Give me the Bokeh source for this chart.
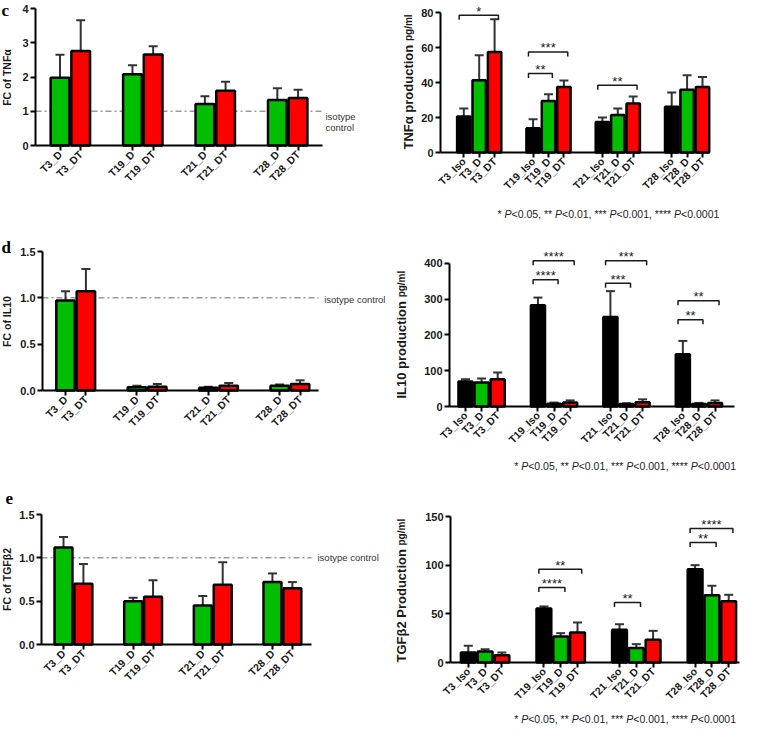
import math
from bokeh.plotting import figure
from bokeh.models import Range1d, FixedTicker, Label, NumeralTickFormatter
from bokeh.layouts import row, column
from bokeh.core.properties import value
from bokeh.embed import file_html
from bokeh.resources import INLINE

FONT = "Liberation Sans"
SERIF = "Liberation Serif"
GREEN, RED, BLACK = "#00BE00", "#FF0000", "#000000"
INK = "#1a1a1a"
ERR = "#333333"
ISO = "#9a9a9a"

# ---------------- data ----------------
groups = ["T3", "T19", "T21", "T28"]
fc_conditions = ["D", "DT"]
pg_conditions = ["Iso", "D", "DT"]
fc_labels = [f"{g}_{c}" for g in groups for c in fc_conditions]
pg_labels = [f"{g}_{c}" for g in groups for c in pg_conditions]
fc_colors = [GREEN, RED]
pg_colors = [BLACK, GREEN, RED]

fc_tnf = [1.98, 2.76, 2.08, 2.66, 1.21, 1.60, 1.33, 1.39]
fc_tnf_err = [0.67, 0.90, 0.26, 0.24, 0.23, 0.26, 0.34, 0.24]
pg_tnf = [20.6, 41.3, 57.5, 13.9, 29.5, 37.5, 17.5, 21.5, 28.0, 26.1, 35.8, 37.5]
pg_tnf_err = [4.5, 14.3, 18.7, 5.1, 3.8, 3.6, 2.5, 3.6, 4.0, 8.2, 8.4, 5.7]

fc_il10 = [0.97, 1.07, 0.035, 0.04, 0.03, 0.05, 0.05, 0.07]
fc_il10_err = [0.10, 0.24, 0.015, 0.03, 0.01, 0.03, 0.015, 0.04]
pg_il10 = [69.8, 67.0, 76.3, 282.8, 8.0, 11.0, 250.0, 7.0, 12.0, 146.0, 7.0, 10.0]
pg_il10_err = [6.5, 11.0, 18.7, 21.2, 3.0, 6.0, 72.0, 2.0, 8.0, 37.0, 3.0, 7.0]

fc_tgf = [1.12, 0.70, 0.50, 0.55, 0.45, 0.69, 0.72, 0.65]
fc_tgf_err = [0.12, 0.23, 0.04, 0.19, 0.11, 0.26, 0.10, 0.07]
pg_tgf = [10.3, 11.3, 7.5, 55.6, 26.8, 30.9, 33.7, 14.8, 23.4, 96.1, 69.3, 63.1]
pg_tgf_err = [6.9, 2.4, 2.8, 2.1, 3.4, 10.3, 5.7, 4.1, 9.2, 4.1, 9.7, 6.6]

# significance: (from bar, to bar, bracket height in data units, label)
sig_tnf = [(0, 2, 78.5, "*"), (3, 5, 57.5, "***"), (3, 4, 45.1, "**"), (6, 8, 38.5, "**")]
sig_il10 = [(3, 5, 406.6, "****"), (3, 4, 353.6, "****"), (6, 8, 406.6, "***"),
            (6, 7, 344.1, "***"), (9, 11, 295.0, "**"), (9, 10, 242.0, "**")]
sig_tgf = [(3, 5, 96.1, "**"), (3, 4, 77.2, "****"), (6, 7, 61.8, "**"),
           (9, 11, 138.0, "****"), (9, 10, 123.6, "**")]

ticks_fc_tnf = [0, 1, 2, 3, 4]
ticks_pg_tnf = [0, 20, 40, 60, 80]
ticks_fc_il10 = [0, 0.5, 1.0, 1.5]
ticks_pg_il10 = [0, 100, 200, 300, 400]
ticks_fc_tgf = [0, 0.5, 1.0, 1.5]
ticks_pg_tgf = [0, 50, 100, 150]
isotype_level = 1.0

p_legend = [("* ", "normal"), ("P", "italic"), ("<0.05, ** ", "normal"), ("P", "italic"),
            ("<0.01, *** ", "normal"), ("P", "italic"), ("<0.001, **** ", "normal"),
            ("P", "italic"), ("<0.0001", "normal")]

# ---------------- helpers ----------------
W_REG = {' ': .278, '*': .389, 'P': .667, '<': .584, '.': .278, ',': .278}
W_BOLD = {'T': .611, 'N': .722, 'F': .611, 'α': .62, 'β': .611, ' ': .278, 'p': .611,
          'r': .389, 'o': .611, 'd': .611, 'u': .611, 'c': .556, 't': .333, 'i': .278,
          'n': .611, 'I': .278, 'L': .611, 'G': .778, 'P': .667}


def twidth(s, size, table):
    return sum(table.get(ch, .556) for ch in s) * size


def page_label(p, g, px, py, text, size, style="normal", font=FONT, align="left",
               baseline="middle", angle=0.0, color=INK):
    # screen units are measured from the frame's bottom-left; the frame fills the figure
    p.add_layout(Label(x=px - g["fx"], y=g["fy"] + g["h"] - py, x_units="screen", y_units="screen",
                       text=text, text_font=font, text_font_size=f"{size}px",
                       text_font_style=style, text_align=align, text_baseline=baseline,
                       angle=angle, text_color=color))


def make_panel(g, labels, vals, errs, colors, per_group, step, yticks, fmt, ytick_size):
    n_in = per_group
    xs = [step * gi + 2 * m for gi in range(len(groups)) for m in range(n_in)]
    u, k = g["u"], g["k"]
    # frame covers the whole figure; axes are pinned inside it
    x0 = (g["fx"] - g["xfirst"]) / u
    x1 = (g["fx"] + g["w"] - g["xfirst"]) / u
    y0 = -(g["fy"] + g["h"] - g["B"]) / k
    y1 = (g["B"] - g["fy"]) / k
    xl = (g["L"] - g["xfirst"]) / u
    xr = (g["R"] - g["xfirst"]) / u
    p = figure(width=g["w"], height=g["h"], x_range=Range1d(x0, x1), y_range=Range1d(y0, y1),
               output_backend="svg", toolbar_location=None,
               min_border_left=0, min_border_right=0, min_border_top=0, min_border_bottom=0)
    p.outline_line_color = None
    p.xgrid.visible = False
    p.ygrid.visible = False
    p.background_fill_color = "white"
    p.border_fill_color = "white"

    bar_colors = [colors[i % n_in] for i in range(len(xs))]
    tops = [v + e for v, e in zip(vals, errs)]
    cap = 4.5 / u
    if g.get("iso"):
        p.line(x=[xl, xr], y=[isotype_level, isotype_level], line_color=ISO, line_width=1.5,
               line_dash="6 3 2 3")
    p.segment(x0=xs, y0=vals, x1=xs, y1=tops, line_color=ERR, line_width=2)
    p.segment(x0=[x - cap for x in xs], y0=tops, x1=[x + cap for x in xs], y1=tops,
              line_color=ERR, line_width=2)
    p.vbar(x=xs, top=vals, bottom=0, width=2 - 2.0 / u, fill_color=bar_colors,
           line_color=BLACK, line_width=2.5)

    for ax in (p.xaxis[0], p.yaxis[0]):
        ax.axis_line_width = 2
        ax.axis_line_color = BLACK
        ax.major_tick_line_width = 2
        ax.major_tick_line_color = BLACK
        ax.major_tick_out = 5
        ax.major_tick_in = 0
        ax.minor_tick_line_color = None
        ax.major_label_text_font = FONT
        ax.major_label_text_font_style = "bold"
        ax.major_label_text_color = INK
        ax.major_label_standoff = 2
    p.xaxis.major_label_text_font_size = "10.5px"
    p.yaxis.major_label_text_font_size = ytick_size
    p.xaxis.ticker = FixedTicker(ticks=xs)
    p.xaxis.major_label_overrides = {x: lab for x, lab in zip(xs, labels)}
    p.xaxis.major_label_orientation = math.pi / 4
    p.xaxis.fixed_location = 0
    p.xaxis.bounds = (xl, xr)
    p.yaxis.ticker = FixedTicker(ticks=yticks)
    p.yaxis.fixed_location = xl
    p.yaxis.bounds = (0, yticks[-1])
    if fmt:
        p.yaxis.formatter = NumeralTickFormatter(format=fmt)
    return p, xs


def add_brackets(p, g, xs, sigs):
    drop = 4.5 / g["k"]
    for a, b, lev, lab in sigs:
        left = xs[a] - 0.6
        right = xs[b] + 0.5
        p.multi_line(xs=[[left, left, right, right]], ys=[[lev - drop, lev, lev, lev - drop]],
                     line_color=INK, line_width=1.5)
        p.text(x=[(left + right) / 2], y=[lev], text=[lab], text_align="center",
               text_baseline="alphabetic", text_font=value(FONT), text_font_size="13px",
               text_color=INK, y_offset=-4)


def add_plegend(p, g, px, py, size=10.5):
    x = px
    for txt, style in p_legend:
        page_label(p, g, x, py, txt, size, style=style, color="#222222")
        x += twidth(txt, size, W_REG)


def add_right_ylabel(p, g, xb, ystart, main, sub):
    page_label(p, g, xb, ystart, main, 13, style="bold", align="left", baseline="alphabetic",
               angle=math.pi / 2)
    w = twidth(main + " ", 13, W_BOLD)
    page_label(p, g, xb, ystart - w, sub, 10, style="bold", align="left", baseline="alphabetic",
               angle=math.pi / 2)


# ---------------- geometry (page pixels) ----------------
G = {
    "c1": dict(fx=8, fy=8, w=387, h=237, L=43, R=330, B=153, xfirst=67.5, u=10.35, k=137 / 4, iso=True),
    "c2": dict(fx=395, fy=8, w=354, h=237, L=448, R=717, B=160, xfirst=471.3, u=7.7, k=1.75),
    "d1": dict(fx=8, fy=245, w=387, h=247, L=50, R=326, B=398, xfirst=73, u=10.2, k=139 / 1.5, iso=True),
    "d2": dict(fx=395, fy=245, w=354, h=247, L=457, R=742, B=414, xfirst=473, u=8.05, k=143.3 / 400),
    "e1": dict(fx=8, fy=492, w=387, h=241, L=49, R=319, B=652, xfirst=71, u=9.95, k=130 / 1.5, iso=True),
    "e2": dict(fx=395, fy=492, w=354, h=241, L=458, R=747, B=670, xfirst=475.8, u=8.4, k=145.7 / 150),
}

# ---- c ----
g = G["c1"]
c1, xs = make_panel(g, fc_labels, fc_tnf, fc_tnf_err, fc_colors, 2, 7, ticks_fc_tnf, None, "11px")
page_label(c1, g, 333, 124, "isotype", 9.5, color="#333333")
page_label(c1, g, 333, 135, "control", 9.5, color="#333333")
page_label(c1, g, 14, 85, "FC of TNFα", 10.5, style="bold", align="center", angle=math.pi / 2)
page_label(c1, g, 9, 8, "c", 17, style="bold", font=SERIF, baseline="top", color="#000000")

g = G["c2"]
c2, xs = make_panel(g, pg_labels, pg_tnf, pg_tnf_err, pg_colors, 3, 9, ticks_pg_tnf, None, "11px")
add_brackets(c2, g, xs, sig_tnf)
add_right_ylabel(c2, g, 416, 157, "TNFα production", "pg/ml")
add_plegend(c2, g, 505, 221.7)

# ---- d ----
g = G["d1"]
d1, xs = make_panel(g, fc_labels, fc_il10, fc_il10_err, fc_colors, 2, 7, ticks_fc_il10, "0.0", "11px")
page_label(d1, g, 331.7, 306.7, "isotype control", 9.5, color="#333333")
page_label(d1, g, 14, 329, "FC of IL10", 10.5, style="bold", align="center", angle=math.pi / 2)
page_label(d1, g, 9, 245, "d", 17, style="bold", font=SERIF, baseline="top", color="#000000")

g = G["d2"]
d2, xs = make_panel(g, pg_labels, pg_il10, pg_il10_err, pg_colors, 3, 9, ticks_pg_il10, None, "11px")
add_brackets(d2, g, xs, sig_il10)
add_right_ylabel(d2, g, 409, 406, "IL10 production", "pg/ml")
add_plegend(d2, g, 521.7, 473.3)

# ---- e ----
g = G["e1"]
e1, xs = make_panel(g, fc_labels, fc_tgf, fc_tgf_err, fc_colors, 2, 7, ticks_fc_tgf, "0.0", "11px")
page_label(e1, g, 325, 565.3, "isotype control", 9.5, color="#333333")
page_label(e1, g, 14, 587, "FC of TGFβ2", 10.5, style="bold", align="center", angle=math.pi / 2)
page_label(e1, g, 13, 500, "e", 17, style="bold", font=SERIF, baseline="top", color="#000000")

g = G["e2"]
e2, xs = make_panel(g, pg_labels, pg_tgf, pg_tgf_err, pg_colors, 3, 9, ticks_pg_tgf, None, "11px")
add_brackets(e2, g, xs, sig_tgf)
add_right_ylabel(e2, g, 409, 670, "TGFβ2 Production", "pg/ml")
add_plegend(e2, g, 521.7, 726)

layout = column(row(c1, c2), row(d1, d2), row(e1, e2))
open("out.html", "w").write(file_html(layout, INLINE))
